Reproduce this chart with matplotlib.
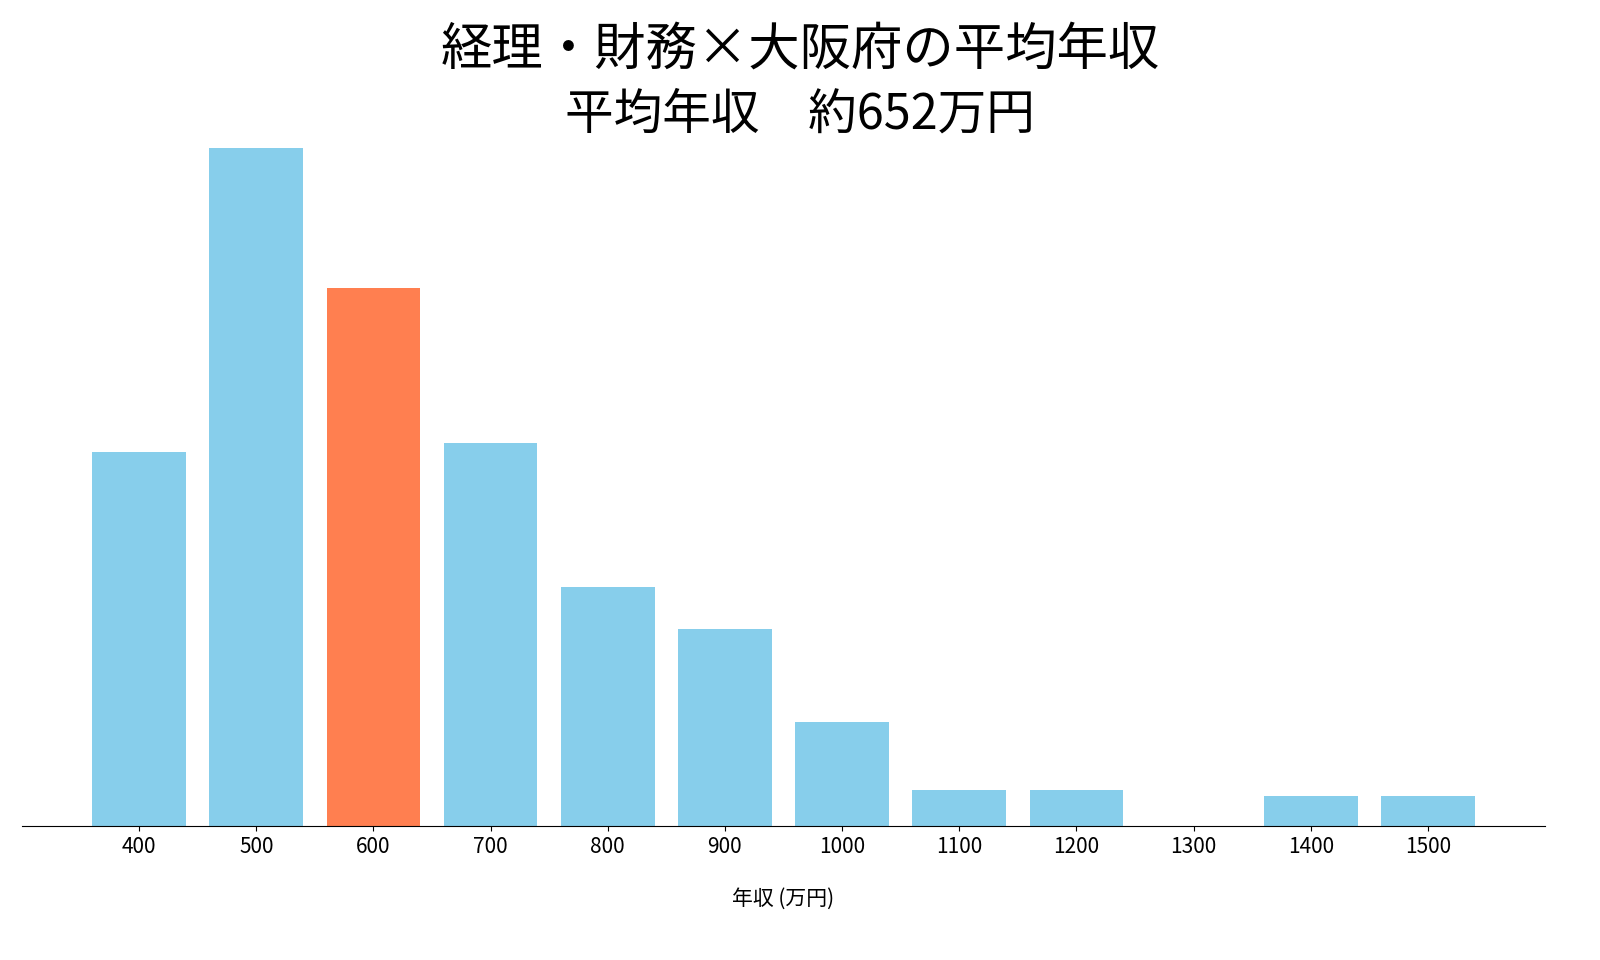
import matplotlib
matplotlib.use("Agg")
import matplotlib.pyplot as plt

plt.rcParams['font.family'] = ['Noto Sans CJK JP', 'DejaVu Sans']

categories = ["400","500","600","700","800","900","1000","1100","1200","1300","1400","1500"]
values = [374, 678, 538, 383, 239, 197, 104, 36, 36, 0, 30, 30]
highlight = "600"
title1 = "経理・財務×大阪府の平均年収"
title2 = "平均年収　約652万円"
xlabel = "年収 (万円)"

fig = plt.figure(figsize=(16, 9.6), dpi=100)
ax = fig.add_axes([22/1600, 1-826/960, (1545-22)/1600, (826-148)/960])
colors = ["#FF7F50" if c == highlight else "#87CEEB" for c in categories]
x = list(range(len(categories)))
ax.bar(x, values, width=0.8, color=colors)
ax.set_xlim(-1, 12)
ax.set_ylim(0, max(values))
ax.set_xticks(x)
ax.set_xticklabels(categories, fontsize=15)
ax.set_yticks([])
for s in ["top", "right", "left"]:
    ax.spines[s].set_visible(False)
ax.set_xlabel(xlabel, fontsize=15, labelpad=22)
fig.text(0.5, 1-50/960, title1, ha="center", va="center", fontsize=37)
fig.text(0.5, 1-115/960, title2, ha="center", va="center", fontsize=35)
fig.savefig("out.png")
